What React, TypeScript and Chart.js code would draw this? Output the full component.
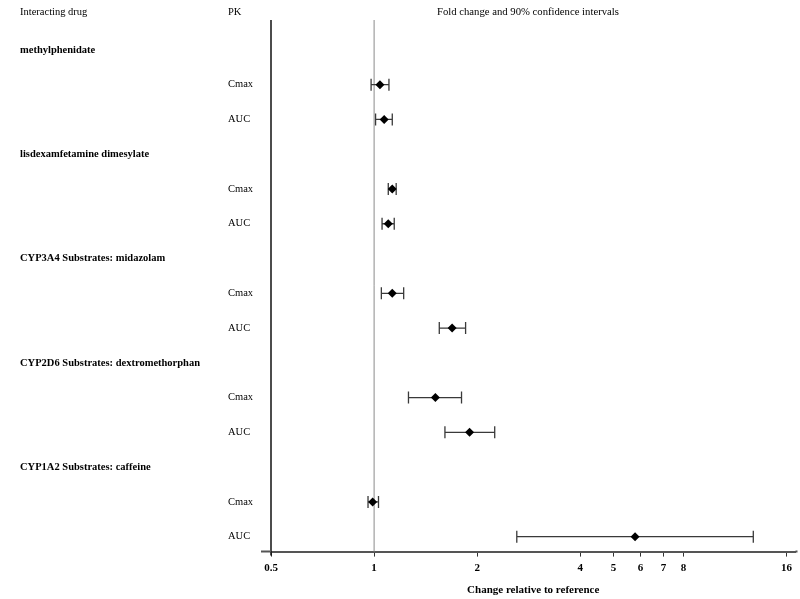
import React, { useEffect, useRef } from "react";
import { Chart, registerables } from "chart.js";

Chart.register(...registerables);

const drugs = [
  "methylphenidate",
  "lisdexamfetamine dimesylate",
  "CYP3A4 Substrates: midazolam",
  "CYP2D6 Substrates: dextromethorphan",
  "CYP1A2 Substrates: caffeine",
];
const pkParams = ["Cmax", "AUC"];
// per drug: [Cmax, AUC]
const pointEstimates = [1.04, 1.07, 1.13, 1.1, 1.13, 1.69, 1.51, 1.9, 0.99, 5.78];
const ciLower = [0.98, 1.01, 1.1, 1.055, 1.05, 1.55, 1.26, 1.61, 0.96, 2.61];
const ciUpper = [1.105, 1.13, 1.16, 1.145, 1.22, 1.85, 1.8, 2.25, 1.03, 12.8];
const xTicks = [0.5, 1, 2, 4, 5, 6, 7, 8, 16];

const SERIF = "'Liberation Serif', 'DejaVu Serif', serif";

function rowOf(d: number, p: number) {
  return d * 3 + 1 + p;
}

export default function App() {
  const ref = useRef<HTMLCanvasElement | null>(null);

  useEffect(() => {
    if (!ref.current) return;
    const points: { x: number; y: number }[] = [];
    drugs.forEach((_, d) => {
      pkParams.forEach((__, p) => {
        points.push({ x: pointEstimates[d * 2 + p], y: rowOf(d, p) });
      });
    });

    const forestPlugin = {
      id: "forest",
      beforeDatasetsDraw(chart: any) {
        const { ctx, chartArea, scales } = chart;
        const xs = scales.x;
        const ys = scales.y;
        ctx.save();
        // reference line at 1
        const x1 = xs.getPixelForValue(1);
        ctx.strokeStyle = "#8a8a8a";
        ctx.lineWidth = 1;
        ctx.beginPath();
        ctx.moveTo(x1, chartArea.top);
        ctx.lineTo(x1, chartArea.bottom);
        ctx.stroke();
        // vertical axis
        ctx.strokeStyle = "#111";
        ctx.lineWidth = 1.5;
        ctx.beginPath();
        ctx.moveTo(chartArea.left, chartArea.top);
        ctx.lineTo(chartArea.left, chartArea.bottom + 4);
        ctx.stroke();
        // axis extension to left and right
        ctx.strokeStyle = "#555";
        ctx.lineWidth = 2;
        ctx.beginPath();
        ctx.moveTo(chartArea.left - 10, chartArea.bottom);
        ctx.lineTo(chartArea.left, chartArea.bottom);
        ctx.moveTo(chartArea.right, chartArea.bottom);
        ctx.lineTo(chartArea.right + 2, chartArea.bottom);
        ctx.stroke();
        // error bars
        ctx.strokeStyle = "#3a3a3a";
        ctx.lineWidth = 1.3;
        drugs.forEach((_, d) => {
          pkParams.forEach((__, p) => {
            const i = d * 2 + p;
            const y = ys.getPixelForValue(rowOf(d, p));
            const xl = xs.getPixelForValue(ciLower[i]);
            const xh = xs.getPixelForValue(ciUpper[i]);
            ctx.beginPath();
            ctx.moveTo(xl, y);
            ctx.lineTo(xh, y);
            ctx.moveTo(xl, y - 6);
            ctx.lineTo(xl, y + 6);
            ctx.moveTo(xh, y - 6);
            ctx.lineTo(xh, y + 6);
            ctx.stroke();
          });
        });
        // texts
        ctx.fillStyle = "#000";
        ctx.textBaseline = "middle";
        ctx.textAlign = "left";
        ctx.font = `10.5px ${SERIF}`;
        ctx.fillText("Interacting drug", 20, 12);
        ctx.fillText("PK", 228, 12);
        ctx.font = `10.7px ${SERIF}`;
        ctx.fillText("Fold change and 90% confidence intervals", 437, 12);
        drugs.forEach((name, d) => {
          ctx.font = `bold 10.5px ${SERIF}`;
          ctx.fillText(name, 20, ys.getPixelForValue(d * 3));
          ctx.font = `10.5px ${SERIF}`;
          pkParams.forEach((pk, p) => {
            ctx.fillText(pk, 228, ys.getPixelForValue(rowOf(d, p)));
          });
        });
        ctx.restore();
      },
    };

    const chart = new Chart(ref.current, {
      type: "scatter",
      data: {
        datasets: [
          {
            data: points,
            pointStyle: "rectRot",
            pointRadius: 4.5,
            pointBackgroundColor: "#000",
            pointBorderColor: "#000",
            borderWidth: 0,
            showLine: false,
          },
        ],
      },
      options: {
        responsive: false,
        animation: false,
        devicePixelRatio: 1,
        layout: { padding: { left: 271, right: 1, top: 20, bottom: 0 } },
        plugins: { legend: { display: false }, tooltip: { enabled: false } },
        scales: {
          x: {
            type: "logarithmic",
            min: 0.5,
            max: 17.0,
            afterBuildTicks: (scale: any) => {
              scale.ticks = xTicks.map((v) => ({ value: v }));
            },
            ticks: {
              autoSkip: false,
              maxRotation: 0,
              color: "#000",
              padding: 5,
              font: { family: SERIF, size: 11, weight: "bold" },
              callback: (v: any) => String(v),
            },
            grid: {
              display: true,
              drawOnChartArea: false,
              drawTicks: true,
              tickLength: 5,
              color: "#333",
            },
            border: { display: true, color: "#555", width: 2 },
            title: {
              display: true,
              text: "Change relative to reference",
              color: "#000",
              font: { family: SERIF, size: 11, weight: "bold" },
              padding: { top: 4, bottom: 2 },
            },
          },
          y: {
            type: "linear",
            display: false,
            reverse: true,
            min: -0.86,
            max: 14.43,
          },
        },
      },
      plugins: [forestPlugin],
    } as any);
    return () => chart.destroy();
  }, []);

  return (
    <div style={{ position: "absolute", left: 0, top: 0, background: "#fff" }}>
      <canvas ref={ref} width={800} height={599} />
    </div>
  );
}
